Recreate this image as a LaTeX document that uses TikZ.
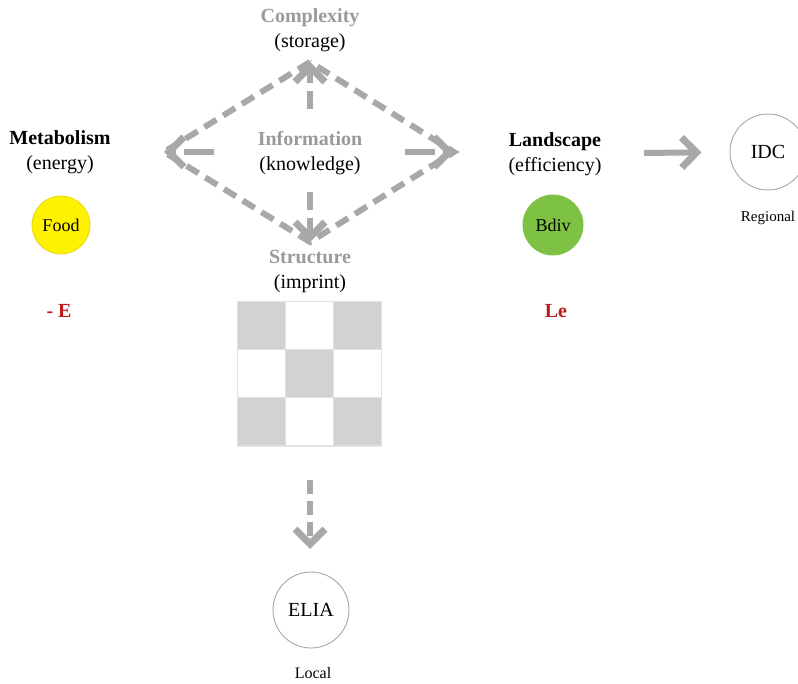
\documentclass[tikz,border=0pt]{standalone}
\usepackage{fontspec}
\setmainfont{Liberation Serif}
\usetikzlibrary{arrows.meta}
\definecolor{arr}{HTML}{A8A8A8}
\definecolor{gtxt}{HTML}{9A9A9A}
\definecolor{redt}{HTML}{C0191E}
\definecolor{yel}{HTML}{FFF200}
\definecolor{grn}{HTML}{7DC242}
\definecolor{cell}{HTML}{D2D2D2}
\definecolor{cellb}{HTML}{E2E2E2}
\tikzset{
  lbl/.style={align=center, font=\fontsize{20}{25}\selectfont, inner sep=0pt},
  glbl/.style={lbl, text=gtxt},
  darr/.style={draw=arr, line width=6pt, dash pattern=on 14pt off 8pt},
  tip/.style={-{Straight Barb[length=15pt,width=30pt,line width=7pt,line cap=butt]}},
  ring/.style={circle, draw=gray!70, line width=0.9pt, minimum size=#1, inner sep=0pt, font=\fontsize{20}{24}\selectfont},
  small/.style={font=\fontsize{15}{18}\selectfont, inner sep=0pt},
  redl/.style={font=\fontsize{20}{22}\selectfont\bfseries, text=redt, inner sep=0pt}
}
\begin{document}
\begin{tikzpicture}[x=1pt,y=-1pt]
\useasboundingbox (0,0) rectangle (798,684);
\clip (0,0) rectangle (798,684);

% labels
\node[glbl] (cplx) at (310,30) {\textbf{Complexity}\\\textcolor{black}{(storage)}};
\node[glbl] (info) at (310,153) {\textbf{Information}\\\textcolor{black}{(knowledge)}};
\node[glbl] (strc) at (310,272) {\textbf{Structure}\\\textcolor{black}{(imprint)}};
\node[lbl] (meta) at (60,152) {\textbf{Metabolism}\\(energy)};
\node[lbl] (land) at (555,154) {\textbf{Landscape}\\(efficiency)};

% diamond apexes
\coordinate (T) at (310,62);
\coordinate (L) at (164,152);
\coordinate (R) at (454,152);
\coordinate (B) at (310,242);
\coordinate (Ti) at (310,109);
\coordinate (Li) at (214,152);
\coordinate (Ri) at (405,152);
\coordinate (Bi) at (310,192);

\draw[darr] (T) -- (L) -- (B) -- (R) -- cycle;
\draw[darr,tip,dash pattern=on 18pt off 8pt] (Ti) -- (T);
\draw[darr,tip,dash pattern=on 30pt off 8pt] (Li) -- (L);
\draw[darr,tip,dash pattern=on 30pt off 8pt] (Ri) -- (R);
\draw[darr,tip,dash pattern=on 18pt off 8pt] (Bi) -- (B);

% circles
\node[ring=58pt, fill=yel, draw=yel!80!gray, font=\fontsize{18}{20}\selectfont] (food) at (61,225) {Food};
\node[ring=60pt, fill=grn, draw=grn, font=\fontsize{18}{20}\selectfont] (bdiv) at (553,225) {Bdiv};
\node[redl] (me) at (59,311) {- E};
\node[redl] (le) at (556,311) {Le};

% right arrow and IDC
\node[ring=76pt] (idc) at (768,152) {IDC};
\node[small] (reg) at (768,218) {Regional};
\coordinate (ra) at (644,153);
\draw[draw=arr, line width=6pt, tip] (ra) -- (idc.west) [shorten >=28pt];

% grid
\begin{scope}[draw=cellb, line width=1pt]
\foreach \i in {0,1,2}{
  \foreach \j in {0,1,2}{
    \pgfmathtruncatemacro{\p}{mod(\i+\j,2)}
    \ifnum\p=0
      \filldraw[fill=cell] (237+48*\i,302+48*\j) rectangle ++(48,48);
    \else
      \draw (237+48*\i,302+48*\j) rectangle ++(48,48);
    \fi
  }
}
\end{scope}
\coordinate (gs) at (310,480);
\coordinate (ge) at (310,549);
\draw[darr,tip,dash pattern=on 14pt off 7pt] (gs) -- (ge);

% ELIA
\node[ring=76pt] (elia) at (311,610) {ELIA};
\node[small, font=\fontsize{16}{18}\selectfont] (loc) at (313,673) {Local};
\end{tikzpicture}
\end{document}
